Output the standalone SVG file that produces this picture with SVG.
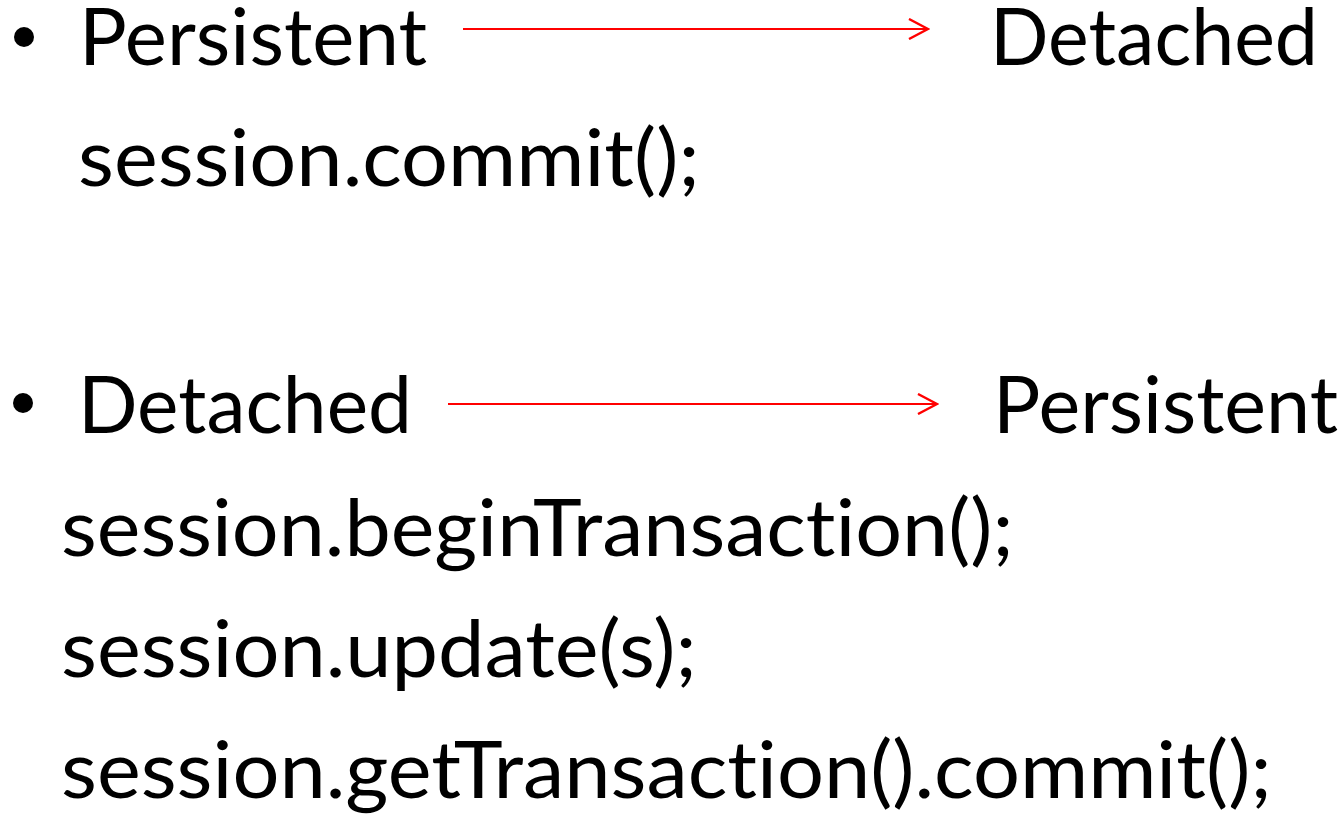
<svg xmlns="http://www.w3.org/2000/svg" width="1340" height="817" viewBox="0 0 1340 817">
<style>
.t{font-family:Lato,"Open Sans","Liberation Sans",sans-serif;font-size:80px;fill:#000;font-variant-ligatures:none;font-feature-settings:"liga" 0,"clig" 0;}
.c{stroke:#ff0000;stroke-width:2.2;fill:none;}
</style>
<defs>
<marker id="arr" viewBox="0 0 22 22" refX="20" refY="11" markerWidth="22" markerHeight="22" markerUnits="userSpaceOnUse" orient="auto">
<path d="M1 1 L20 11 L1 21" fill="none" stroke="#ff0000" stroke-width="2.4"/>
</marker>
</defs>
<rect width="1340" height="817" fill="#fff"/>
<g id="bullet1">
<circle cx="24" cy="37" r="10" fill="#000"/>
<text id="persistent1" class="t" x="79" y="65" textLength="348" lengthAdjust="spacingAndGlyphs">Persistent</text>
</g>
<g id="detached1">
<text class="t" x="990" y="65" textLength="328" lengthAdjust="spacingAndGlyphs">Detached</text>
</g>
<g id="code1">
<text class="t" x="78" y="186" textLength="622" lengthAdjust="spacingAndGlyphs">session.commit();</text>
</g>
<g id="bullet2">
<circle cx="23" cy="403" r="10" fill="#000"/>
<text class="t" x="78" y="433" textLength="334" lengthAdjust="spacingAndGlyphs">Detached</text>
</g>
<g id="persistent2">
<text class="t" x="993" y="433" textLength="345" lengthAdjust="spacingAndGlyphs">Persistent</text>
</g>
<g id="code2">
<text class="t" x="61" y="556" textLength="953" lengthAdjust="spacingAndGlyphs">session.beginTransaction();</text>
<text class="t" x="61" y="677" textLength="636" lengthAdjust="spacingAndGlyphs">session.update(s);</text>
<text class="t" x="61" y="798" textLength="1211" lengthAdjust="spacingAndGlyphs">session.getTransaction().commit();</text>
</g>
<g id="connectors">
<path class="c" d="M463 29 H928" marker-end="url(#arr)"/>
<path class="c" d="M448 404 H937" marker-end="url(#arr)"/>
</g>
</svg>
